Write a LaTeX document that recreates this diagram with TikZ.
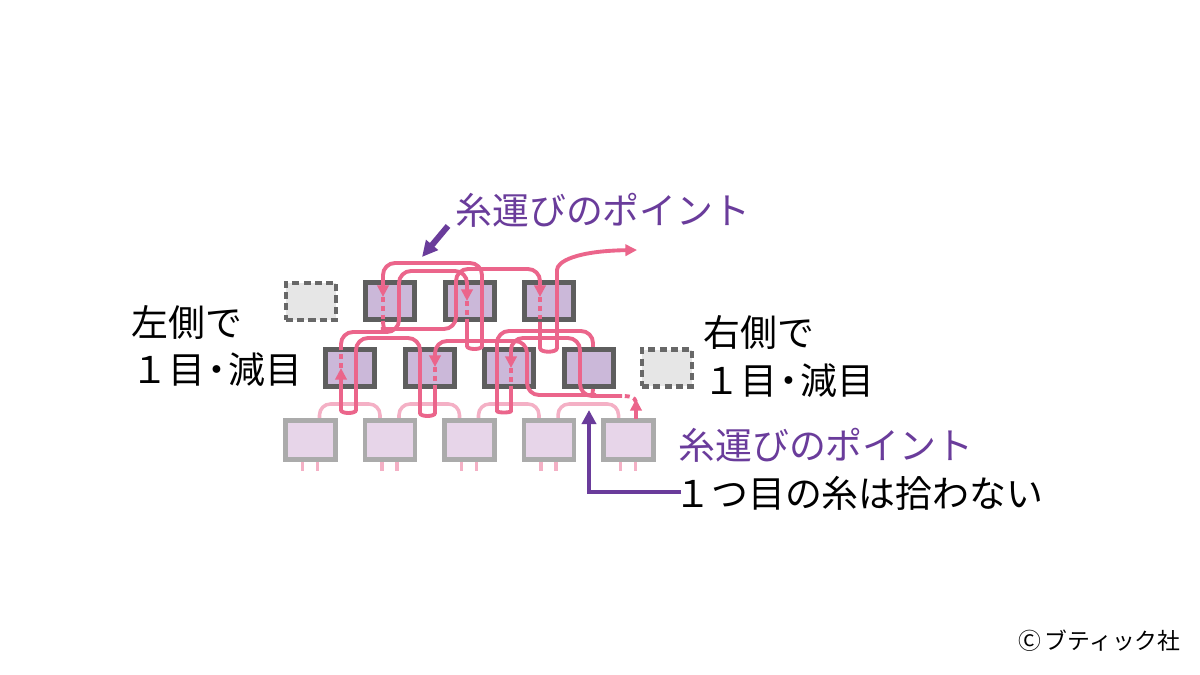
\documentclass[tikz,border=0pt]{standalone}
\usepackage{fontspec}
\setmainfont{Noto Sans CJK JP}
\usetikzlibrary{arrows.meta}
\definecolor{thr}{HTML}{EB658B}
\definecolor{lthr}{HTML}{F4B0C5}
\definecolor{beadln}{HTML}{5E5E5E}
\definecolor{beadfl}{HTML}{CBB8D9}
\definecolor{lbeadln}{HTML}{ABABAB}
\definecolor{lbeadfl}{HTML}{E7D5E9}
\definecolor{ghostln}{HTML}{686868}
\definecolor{ghostfl}{HTML}{E6E6E6}
\definecolor{ptext}{HTML}{6A3C9B}
\newcommand{\nakaguro}{\kern-0.18em・\kern-0.18em}
\begin{document}
\begin{tikzpicture}[x=0.02cm,y=-0.02cm,
  bead/.style={draw=beadln,fill=beadfl,line width=2.8pt,minimum width=0.98cm,minimum height=0.74cm,inner sep=0pt},
  lbead/.style={draw=lbeadln,fill=lbeadfl,line width=2.6pt,minimum width=1.0cm,minimum height=0.79cm,inner sep=0pt},
  ghost/.style={draw=ghostln,fill=ghostfl,line width=2.3pt,dash pattern=on 4pt off 2.4pt,minimum width=1.0cm,minimum height=0.74cm,inner sep=0pt},
  thread/.style={draw=thr,line width=2.2pt,rounded corners=0.24cm},
  threadar/.style={thread,-{Triangle[length=6.6pt,width=6.4pt]}},
  hidden/.style={draw=thr,line width=2.2pt,dash pattern=on 2.8pt off 2.2pt},
  bridge/.style={draw=lthr,line width=2pt,rounded corners=0.22cm},
  leg/.style={draw=lthr,line width=1.9pt},
  jp/.style={inner sep=0pt,font=\fontsize{21pt}{25pt}\selectfont},
  pjp/.style={jp,text=ptext},
  pointer/.style={draw=ptext,line width=2.4pt,-{Triangle[length=8pt,width=8pt]}}
]
\fill[white] (0,0) rectangle (1200,675);
\useasboundingbox (0,0) rectangle (1200,675);

% bridges and legs of the bottom row
\foreach \a/\b in {310.5/390,390/469.5,469.5/549,549/628.5}
  \draw[bridge] (\a+9,421) -- (\a+9,404) -- (\b-10,404) -- (\b-10,421);
\foreach \c in {310.5,390,469.5,549,628.5} {
  \draw[leg] (\c-8,459) -- (\c-8,471);
  \draw[leg] (\c+7,459) -- (\c+7,471);
}

% beads
\node[ghost] (t0) at (311,301.5) {};
\node[bead] (t1) at (390,301) {};
\node[bead] (t2) at (470,301) {};
\node[bead] (t3) at (549,301) {};
\node[bead] (m1) at (350,368) {};
\node[bead] (m2) at (430,368) {};
\node[bead] (m3) at (509,368) {};
\node[bead] (m4) at (589,368) {};
\node[ghost] (m5) at (667,368) {};
\node[lbead] (b1) at (310.5,440) {};
\node[lbead] (b2) at (390,440) {};
\node[lbead] (b3) at (469.5,440) {};
\node[lbead] (b4) at (549,440) {};
\node[lbead] (b5) at (628.5,440) {};

% thread path
\draw[threadar] (636,419) -- (636,399);
\draw[hidden] (636,402) .. controls (635,397) and (630,396) .. (621,396);
\draw[threadar] (622,396) -- (580,396) -- (580,338) -- (511,338) -- (511,368);
\draw[hidden] (511,368) -- (511,389);
\draw[thread] (511,389) -- (511,399) .. controls (511,413) and (497,413) .. (497,399)
  -- (497,331) -- (593,331) -- (593,347);
\draw[threadar] (593,389) .. controls (593,395) and (590,395) .. (584,395)
  -- (527,395) -- (527,341) -- (435,341) -- (435,367);
\draw[hidden] (435,367) -- (435,389);
\draw[threadar] (435,389) -- (435,401) .. controls (435,417) and (420,417) .. (420,401)
  -- (420,338) -- (356,338) -- (356,398) .. controls (356,414) and (341,414) .. (341,398)
  -- (341,368);
\draw[hidden] (341,368) -- (341,347);
\draw[threadar] (341,347) -- (341,332) -- (399,332) -- (399,271) -- (467,271) -- (467,301);
\draw[hidden] (467,301) -- (467,322);
\draw[threadar] (467,322) -- (467,334) .. controls (467,350) and (482,350) .. (482,334)
  -- (482,263) -- (383,263) -- (383,297);
\draw[hidden] (383,297) -- (383,322);
\draw[threadar] (383,321) .. controls (383,328) and (386,329) .. (393,329)
  -- (456,329) -- (456,269) -- (540,269) -- (540,297);
\draw[hidden] (540,297) -- (540,322);
\draw[threadar] (540,322) -- (540,336) .. controls (540,353) and (557,353) .. (557,336)
  -- (557,282) .. controls (557,262) and (575,251) .. (637,250);

% labels
\node[pjp,anchor=west] (pt1) at (455,210) {糸運びのポイント};
\node[jp,anchor=west] (lt1) at (131,322) {左側で};
\node[jp,anchor=west] (lt2) at (131,370) {１目\nakaguro 減目};
\node[jp,anchor=west] (rt1) at (703,332) {右側で};
\node[jp,anchor=west] (rt2) at (703,381) {１目\nakaguro 減目};
\node[pjp,anchor=west] (pt2) at (678,445) {糸運びのポイント};
\node[jp,anchor=west] (bt) at (674,493) {１つ目の糸は拾わない};
\node[inner sep=0pt,anchor=east,font=\fontsize{13pt}{15pt}\selectfont] (cp) at (1181,641) {Ⓒ\,ブティック社};

% pointers
\coordinate (a1s) at (448,226);
\coordinate (a1e) at (422,257);
\draw[draw=ptext,line width=3.4pt,-{Triangle[length=9pt,width=8.5pt]}] (a1s) -- (a1e);
\coordinate (a2s) at (681,492);
\coordinate (a2c) at (589,492);
\coordinate (a2e) at (589,410);
\draw[pointer] (a2s) -- (a2c) -- (a2e);
\end{tikzpicture}
\end{document}
